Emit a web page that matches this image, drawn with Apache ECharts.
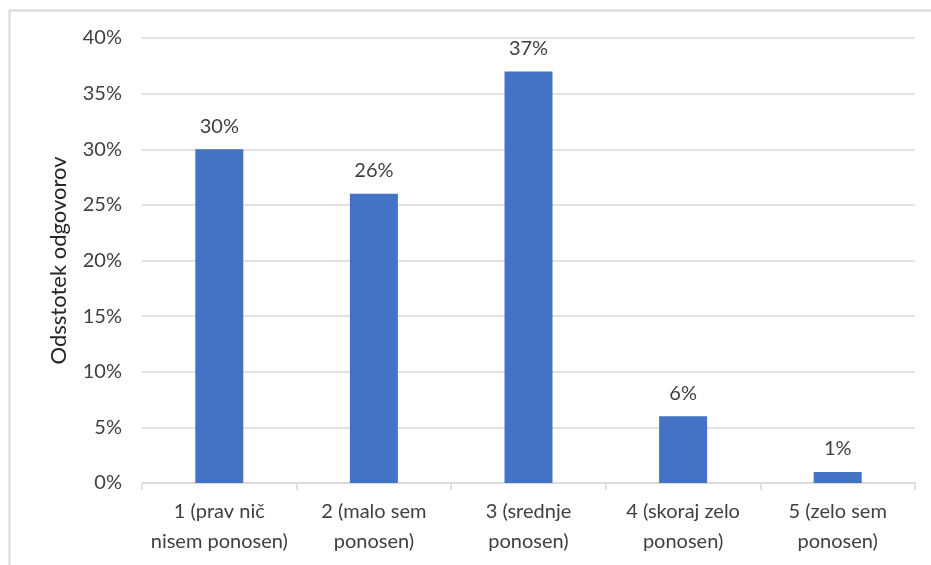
<!DOCTYPE html>
<html><head><meta charset="utf-8">
<script src="https://cdn.jsdelivr.net/npm/echarts@6/dist/echarts.min.js"></script>
<style>html,body{margin:0;padding:0;background:#fff}#c{width:931px;height:565px}</style>
</head><body><div id="c"></div>
<script>
const categories = ['1 (prav nič\nnisem ponosen)', '2 (malo sem\nponosen)', '3 (srednje\nponosen)', '4 (skoraj zelo\nponosen)', '5 (zelo sem\nponosen)'];
const values = [30, 26, 37, 6, 1];
const yTitle = 'Odsstotek odgovorov';
const FONT = 'Lato';
const chart = echarts.init(document.getElementById('c'), null, {renderer: 'canvas'});
chart.setOption({
  animation: false,
  backgroundColor: '#fff',
  graphic: [{type: 'polyline', shape: {points: [[9.5, 570], [9.5, 10.5], [940, 10.5]]}, style: {stroke: '#d9d9d9', lineWidth: 2, fill: null}, silent: true}],
  grid: {left: 142, right: 16, top: 38, bottom: 82},
  xAxis: {
    type: 'category', data: categories,
    axisLine: {lineStyle: {color: '#d9d9d9', width: 1.5}},
    axisTick: {show: true, length: 7, lineStyle: {color: '#d9d9d9', width: 1.5}},
    axisLabel: {color: '#404040', fontFamily: FONT, fontSize: 20, lineHeight: 30, margin: 14, interval: 0}
  },
  yAxis: {
    type: 'value', min: 0, max: 40, interval: 5,
    name: yTitle, nameLocation: 'middle', nameGap: 72, nameRotate: 90,
    nameTextStyle: {color: '#262626', fontFamily: FONT, fontSize: 22},
    axisLine: {show: false}, axisTick: {show: false},
    axisLabel: {formatter: '{value}%', color: '#404040', fontFamily: FONT, fontSize: 20, margin: 20},
    splitLine: {lineStyle: {color: '#d9d9d9', width: 1.5}}
  },
  series: [{
    type: 'bar', data: values, barWidth: 48,
    itemStyle: {color: '#4472C4'},
    label: {show: true, position: 'top', distance: 13, formatter: '{c}%', color: '#404040', fontFamily: FONT, fontSize: 20}
  }]
});
</script></body></html>
